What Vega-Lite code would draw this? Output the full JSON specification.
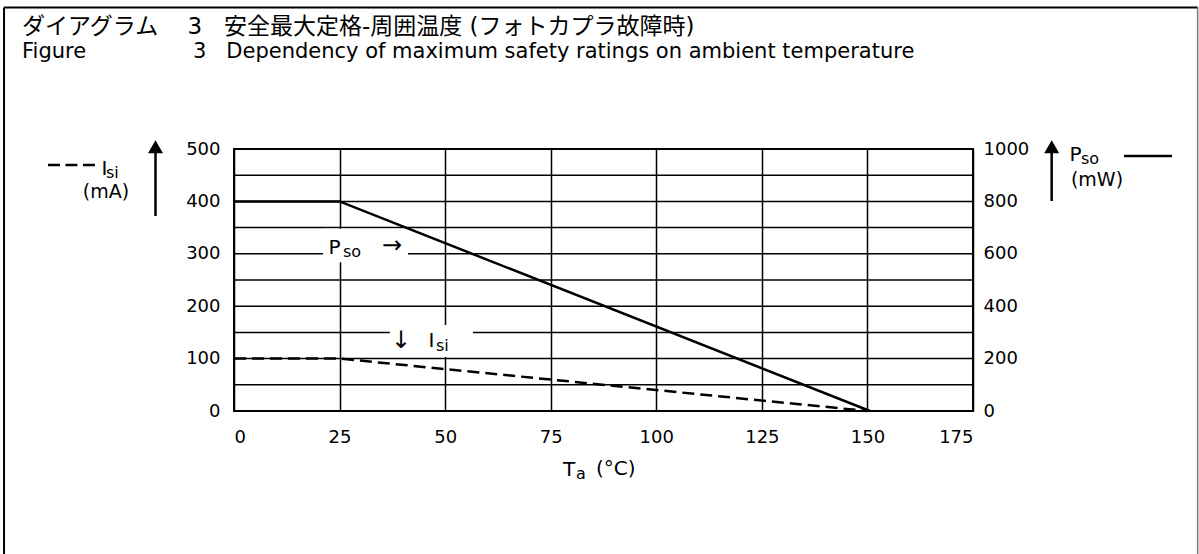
{
  "$schema": "https://vega.github.io/schema/vega-lite/v6.json",
  "width": 739,
  "height": 262,
  "autosize": {"type": "none"},
  "padding": {"left": 234, "top": 149, "right": 226, "bottom": 143},
  "background": "white",
  "config": {
    "font": "DejaVu Sans",
    "view": {"stroke": "black", "strokeWidth": 2},
    "axis": {
      "labelFont": "DejaVu Sans",
      "labelFontSize": 18,
      "labelColor": "black",
      "ticks": false,
      "domain": false,
      "title": null,
      "gridColor": "black",
      "gridOpacity": 1,
      "gridWidth": 1.5
    },
    "text": {"color": "black", "font": "DejaVu Sans"}
  },
  "title": {
    "text": "ダイアグラム\u00a0\u00a0\u00a0\u00a03\u00a0\u00a0\u00a0安全最大定格-周囲温度 (フォトカプラ故障時)",
    "subtitle": "Figure\u00a0\u00a0\u00a0\u00a0\u00a0\u00a0\u00a0\u00a0\u00a0\u00a0\u00a0\u00a0\u00a0\u00a0\u00a0\u00a03\u00a0\u00a0\u00a0Dependency of maximum safety ratings on ambient temperature",
    "anchor": "start",
    "frame": "group",
    "dx": -212,
    "offset": -55,
    "font": "DejaVu Sans, Noto Sans CJK JP",
    "fontSize": 23,
    "fontWeight": "normal",
    "color": "black",
    "subtitleFont": "DejaVu Sans",
    "subtitleFontSize": 21,
    "subtitleColor": "black",
    "subtitlePadding": 2
  },
  "layer": [
    {
      "layer": [
        {
          "data": {"values": [{"g": 0}, {"g": 50}, {"g": 100}, {"g": 150}, {"g": 200}, {"g": 250}, {"g": 300}, {"g": 350}, {"g": 400}, {"g": 450}, {"g": 500}]},
          "mark": {"type": "rule", "color": "black", "strokeWidth": 1.5},
          "encoding": {
            "y": {"field": "g", "type": "quantitative"}
          }
        },
        {
          "data": {"values": [{"T": 0, "I": 100}, {"T": 25, "I": 100}, {"T": 150, "I": 0}]},
          "mark": {"type": "line", "color": "black", "strokeWidth": 2.5, "strokeDash": [12, 6]},
          "encoding": {
            "x": {"field": "T", "type": "quantitative", "scale": {"domain": [0, 175], "nice": false},
              "axis": {"values": [0, 25, 50, 75, 100, 125, 150, 175], "grid": true, "labelPadding": 17}},
            "y": {"field": "I", "type": "quantitative", "scale": {"domain": [0, 500], "nice": false},
              "axis": {"values": [0, 100, 200, 300, 400, 500], "grid": false, "labelPadding": 14}}
          }
        },
        {
          "data": {"values": [{}]},
          "mark": {"type": "rect", "color": "white"},
          "encoding": {"x": {"datum": 21.1}, "x2": {"datum": 41.2}, "y": {"datum": 284}, "y2": {"datum": 348}}
        },
        {
          "data": {"values": [{}]},
          "mark": {"type": "rect", "color": "white"},
          "encoding": {"x": {"datum": 36.9}, "x2": {"datum": 56.6}, "y": {"datum": 103}, "y2": {"datum": 164}}
        },
        {
          "data": {"values": [{}]},
          "mark": {"type": "rule", "color": "black", "strokeWidth": 2},
          "encoding": {"x": {"datum": -54.46}, "y": {"datum": 770}, "y2": {"datum": -300}}
        },
        {
          "data": {"values": [{}]},
          "mark": {"type": "rule", "color": "black", "strokeWidth": 2},
          "encoding": {"x": {"datum": -54.46}, "x2": {"datum": 228.2}, "y": {"datum": 770}}
        },
        {
          "data": {"values": [{}]},
          "mark": {"type": "rule", "color": "#777777", "strokeWidth": 1.5},
          "encoding": {"x": {"datum": 228.2}, "y": {"datum": 770}, "y2": {"datum": -300}}
        },
        {
          "data": {"values": [{}]},
          "mark": {"type": "rule", "color": "black", "strokeWidth": 2.5, "strokeDash": [12, 5.5]},
          "encoding": {"x": {"datum": -44.05}, "x2": {"datum": -32.92}, "y": {"datum": 469.5}}
        },
        {
          "data": {"values": [{}]},
          "mark": {"type": "rule", "color": "black", "strokeWidth": 2.5},
          "encoding": {"x": {"datum": 210.75}, "x2": {"datum": 222.12}, "y": {"datum": 486.6}}
        },
        {
          "data": {"values": [{}]},
          "mark": {"type": "rule", "color": "black", "strokeWidth": 2.5},
          "encoding": {"x": {"datum": -18.59}, "y": {"datum": 498.1}, "y2": {"datum": 372.1}}
        },
        {
          "data": {"values": [{}]},
          "mark": {"type": "rule", "color": "black", "strokeWidth": 2.5},
          "encoding": {"x": {"datum": 193.63}, "y": {"datum": 498.1}, "y2": {"datum": 400.8}}
        },
        {
          "data": {"values": [{}]},
          "mark": {"type": "point", "shape": "triangle-up", "filled": true, "size": 225, "color": "black", "opacity": 1},
          "encoding": {"x": {"datum": -18.59}, "y": {"datum": 504.4}}
        },
        {
          "data": {"values": [{}]},
          "mark": {"type": "point", "shape": "triangle-up", "filled": true, "size": 225, "color": "black", "opacity": 1},
          "encoding": {"x": {"datum": 193.63}, "y": {"datum": 504.4}}
        },
        {
          "data": {"values": [{}]},
          "mark": {"type": "text", "fontSize": 20, "align": "left", "baseline": "alphabetic"},
          "encoding": {"x": {"datum": -31.37}, "y": {"datum": 450.4}, "text": {"value": "I"}}
        },
        {
          "data": {"values": [{}]},
          "mark": {"type": "text", "fontSize": 16, "align": "left", "baseline": "alphabetic"},
          "encoding": {"x": {"datum": -30.31}, "y": {"datum": 444.7}, "text": {"value": "si"}}
        },
        {
          "data": {"values": [{}]},
          "mark": {"type": "text", "fontSize": 19, "align": "center", "baseline": "alphabetic"},
          "encoding": {"x": {"datum": -30.31}, "y": {"datum": 406.5}, "text": {"value": "(mA)"}}
        },
        {
          "data": {"values": [{}]},
          "mark": {"type": "text", "fontSize": 20, "align": "left", "baseline": "alphabetic"},
          "encoding": {"x": {"datum": 197.85}, "y": {"datum": 477.1}, "text": {"value": "P"}}
        },
        {
          "data": {"values": [{}]},
          "mark": {"type": "text", "fontSize": 16, "align": "left", "baseline": "alphabetic"},
          "encoding": {"x": {"datum": 200.57}, "y": {"datum": 471.4}, "text": {"value": "so"}}
        },
        {
          "data": {"values": [{}]},
          "mark": {"type": "text", "fontSize": 19, "align": "center", "baseline": "alphabetic"},
          "encoding": {"x": {"datum": 204.36}, "y": {"datum": 429.4}, "text": {"value": "(mW)"}}
        },
        {
          "data": {"values": [{}]},
          "mark": {"type": "text", "fontSize": 20, "align": "left", "baseline": "alphabetic"},
          "encoding": {"x": {"datum": 77.9}, "y": {"datum": -124.0}, "text": {"value": "T"}}
        },
        {
          "data": {"values": [{}]},
          "mark": {"type": "text", "fontSize": 16, "align": "left", "baseline": "alphabetic"},
          "encoding": {"x": {"datum": 80.98}, "y": {"datum": -129.8}, "text": {"value": "a"}}
        },
        {
          "data": {"values": [{}]},
          "mark": {"type": "text", "fontSize": 20, "align": "left", "baseline": "alphabetic"},
          "encoding": {"x": {"datum": 85.72}, "y": {"datum": -122.1}, "text": {"value": "(°C)"}}
        },
        {
          "data": {"values": [{}]},
          "mark": {"type": "text", "fontSize": 20, "align": "left", "baseline": "alphabetic"},
          "encoding": {"x": {"datum": 22.38}, "y": {"datum": 299.6}, "text": {"value": "P"}}
        },
        {
          "data": {"values": [{}]},
          "mark": {"type": "text", "fontSize": 16, "align": "left", "baseline": "alphabetic"},
          "encoding": {"x": {"datum": 25.8}, "y": {"datum": 293.9}, "text": {"value": "so"}}
        },
        {
          "data": {"values": [{}]},
          "mark": {"type": "text", "fontSize": 24, "align": "center", "baseline": "middle"},
          "encoding": {"x": {"datum": 37.41}, "y": {"datum": 314.9}, "text": {"value": "→"}}
        },
        {
          "data": {"values": [{}]},
          "mark": {"type": "text", "fontSize": 24, "align": "center", "baseline": "middle"},
          "encoding": {"x": {"datum": 39.55}, "y": {"datum": 133.6}, "text": {"value": "↓"}}
        },
        {
          "data": {"values": [{}]},
          "mark": {"type": "text", "fontSize": 20, "align": "left", "baseline": "alphabetic"},
          "encoding": {"x": {"datum": 46.06}, "y": {"datum": 122.1}, "text": {"value": "I"}}
        },
        {
          "data": {"values": [{}]},
          "mark": {"type": "text", "fontSize": 16, "align": "left", "baseline": "alphabetic"},
          "encoding": {"x": {"datum": 47.83}, "y": {"datum": 114.5}, "text": {"value": "si"}}
        }
      ]
    },
    {
      "data": {"values": [{"T": 0, "P": 800}, {"T": 25, "P": 800}, {"T": 150.6, "P": 0}]},
      "mark": {"type": "line", "color": "black", "strokeWidth": 2.5},
      "encoding": {
        "x": {"field": "T", "type": "quantitative"},
        "y": {"field": "P", "type": "quantitative", "scale": {"domain": [0, 1000], "nice": false},
          "axis": {"orient": "right", "values": [0, 200, 400, 600, 800, 1000], "format": "d", "grid": false, "labelPadding": 10}}
      }
    }
  ],
  "resolve": {"scale": {"y": "independent"}}
}
